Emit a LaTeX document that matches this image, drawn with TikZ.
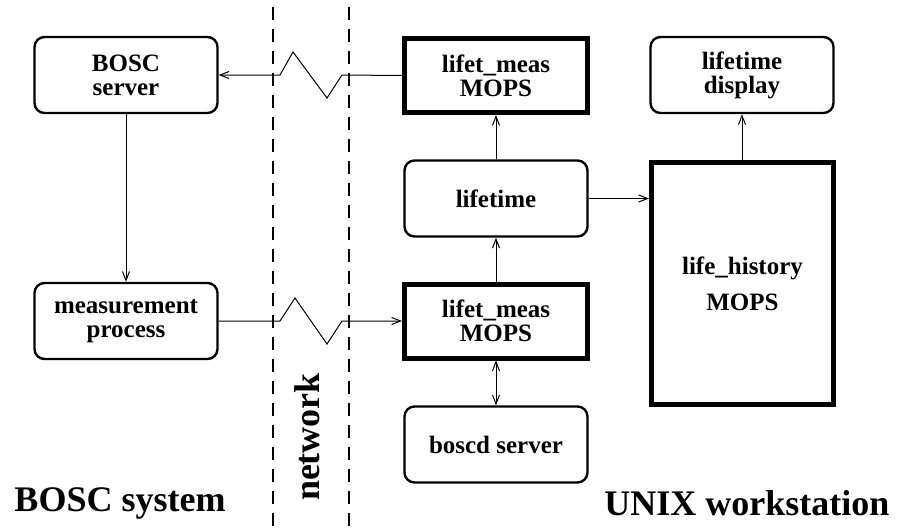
\documentclass[tikz,border=0pt]{standalone}
\usepackage{fontspec}
\setmainfont{Liberation Serif}
\usetikzlibrary{arrows.meta}
\begin{document}
\begin{tikzpicture}[x=1pt,y=-1pt,
 box/.style={draw, line width=2.4pt, rounded corners=10pt, minimum width=183pt, minimum height=76pt, align=center, font=\fontsize{25}{24}\selectfont\bfseries, inner sep=0pt},
 thickbox/.style={box, rounded corners=0pt, line width=5pt, minimum height=74pt},
 conn/.style={line width=1pt, -{Straight Barb[length=9pt,width=7pt]}},
 dconn/.style={line width=1pt, {Straight Barb[length=9pt,width=7pt]}-{Straight Barb[length=9pt,width=7pt]}},
 sepline/.style={line width=2.8pt, dash pattern=on 13pt off 9pt},
 bigtext/.style={font=\fontsize{36}{36}\selectfont\bfseries, inner sep=0pt}]
\useasboundingbox (0,0) rectangle (898,528);
% separators
\draw[sepline] (273,7) -- (273,528);
\draw[sepline] (349,7) -- (349,528);
% nodes
\node[box] (bs) at (126,75) {BOSC\\server};
\node[box] (mp) at (126,321) {measurement\\process};
\node[thickbox] (lm1) at (496,75.5) {lifet\_meas\\MOPS};
\node[box] (ld) at (742,75) {lifetime\\display};
\node[box] (lt) at (496,198.5) {lifetime};
\node[thickbox, minimum width=182pt, minimum height=242pt] (lh) at (742.5,283.5) {life\_history\\[12pt]MOPS};
\node[thickbox] (lm2) at (496,321) {lifet\_meas\\MOPS};
\node[box] (bd) at (496,444.5) {boscd server};
% labels
\node[bigtext, rotate=90] (net) at (307,437) {network};
\node[bigtext] (bsys) at (120,503) {BOSC system};
\node[bigtext] (unix) at (747,503) {UNIX workstation};
% connectors
\draw[conn] (lm1.west) -- (342,75) -- (327,98) -- (293,52) -- (280,75) -- (bs.east);
\draw[conn] (mp.east) -- (280,321) -- (295,298) -- (327,344) -- (342,321) -- (lm2.west);
\draw[conn] (bs.south) -- (mp.north);
\draw[conn] (lt.north) -- (lm1.south);
\draw[conn] (lm2.north) -- (lt.south);
\draw[dconn] (lm2.south) -- (bd.north);
\draw[conn] (lt.east) -- (lh.west |- lt.east);
\draw[conn] (lh.north -| ld.south) -- (ld.south);
\end{tikzpicture}
\end{document}
